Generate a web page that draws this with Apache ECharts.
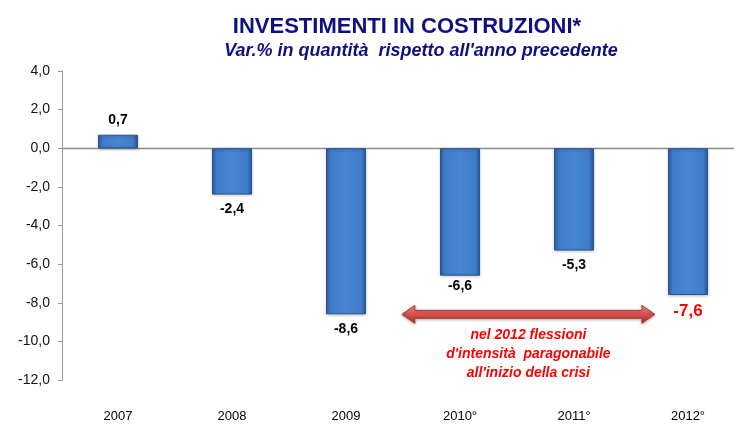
<!DOCTYPE html>
<html>
<head>
<meta charset="utf-8">
<script src="https://cdn.jsdelivr.net/npm/echarts@6/dist/echarts.min.js"></script>
<style>
  html, body { margin: 0; padding: 0; background: #fff; }
  #chart { width: 734px; height: 424px; }
</style>
</head>
<body>
<div id="chart"></div>
<script>
const years = ['2007', '2008', '2009', '2010°', '2011°', '2012°']
const values = [0.7, -2.4, -8.6, -6.6, -5.3, -7.6]
const yTicks = [4, 2, 0, -2, -4, -6, -8, -10, -12]

const titleText = 'INVESTIMENTI IN COSTRUZIONI*'
const subtitleText = "Var.% in quantità  rispetto all'anno precedente"
const noteText = "nel 2012 flessioni\nd'intensità  paragonabile\nall'inizio della crisi"
// arrow spans from between 2009/2010 to between 2011/2012, at the 2009 low
const arrowFrom = 2.49
const arrowTo = 4.71
const arrowLevel = -8.6

const fmt = (v) => v.toFixed(1).replace('.', ',')

const chart = echarts.init(document.getElementById('chart'))

// bar fill: horizontal gradient for the bevelled look
const barFill = new echarts.graphic.LinearGradient(0, 0, 1, 0, [
  { offset: 0, color: '#2d5d9f' },
  { offset: 0.12, color: '#3f7bc9' },
  { offset: 0.5, color: '#4686d3' },
  { offset: 0.88, color: '#3f7bc9' },
  { offset: 1, color: '#2a5896' }
])

const barData = values.map((v, i) => {
  const last = i === values.length - 1
  return {
    value: v,
    label: {
      position: v >= 0 ? 'top' : 'bottom',
      distance: i === 3 ? 3 : 8,
      color: last ? '#ff0000' : '#000',
      fontSize: last ? 17 : 14
    }
  }
})

// plot area runs from first to last bar centre; the y axis sits half a band further left
const axisX = 62
chart.setOption({
  animation: false,
  textStyle: { fontFamily: 'Liberation Sans, Arial, sans-serif' },
  title: [
    {
      text: titleText,
      left: 402,
      top: 11,
      textAlign: 'center',
      textStyle: { color: '#0f0f80', fontSize: 22, fontWeight: 'bold' }
    },
    {
      text: subtitleText,
      left: 416,
      top: 37,
      textAlign: 'center',
      textStyle: { color: '#0f0f80', fontSize: 18, fontWeight: 'bold', fontStyle: 'italic' }
    }
  ],
  grid: { left: 118, top: 71, right: 46, bottom: 44, containLabel: false },
  xAxis: {
    type: 'category',
    data: years,
    boundaryGap: false,
    axisLine: { show: false, onZero: false },
    axisTick: { show: false },
    axisLabel: { color: '#000', fontSize: 13, margin: 30 }
  },
  yAxis: {
    type: 'value',
    min: -12,
    max: 4,
    interval: 2,
    offset: 118 - axisX,
    axisLine: { show: true, lineStyle: { color: '#999' } },
    axisTick: { show: true, length: 4, lineStyle: { color: '#999' } },
    splitLine: { show: false },
    axisLabel: { color: '#111', fontSize: 14, margin: 12, formatter: (v) => fmt(v) }
  },
  series: [
    {
      type: 'bar',
      data: barData,
      barWidth: 40,
      z: 3,
      itemStyle: {
        color: barFill,
        borderColor: '#2a5590',
        borderWidth: 1,
        shadowColor: 'rgba(0,0,0,0.25)',
        shadowBlur: 3,
        shadowOffsetY: 1
      },
      label: {
        show: true,
        fontWeight: 'bold',
        formatter: (p) => fmt(p.value)
      }
    }
  ]
})

// annotation arrow + note + zero line, placed through the axis scales
const cx = (f) => {
  const i = Math.floor(f)
  const a = chart.convertToPixel({ xAxisIndex: 0 }, years[i])
  const b = chart.convertToPixel({ xAxisIndex: 0 }, years[i + 1])
  return a + (b - a) * (f - i)
}
const x1 = cx(arrowFrom)
const x2 = cx(arrowTo)
const ay = chart.convertToPixel({ yAxisIndex: 0 }, arrowLevel)
const zy = Math.round(chart.convertToPixel({ yAxisIndex: 0 }, 0)) + 0.5
const hw = 4, hh = 9, hl = 13

chart.setOption({
  graphic: [
    {
      type: 'line',
      z: 1,
      shape: { x1: axisX, y1: zy, x2: 734, y2: zy },
      style: { stroke: '#8c8c8c', lineWidth: 1.5 }
    },
    {
      type: 'polygon',
      z: 10,
      shape: {
        points: [
          [x1, ay], [x1 + hl, ay - hh], [x1 + hl, ay - hw], [x2 - hl, ay - hw],
          [x2 - hl, ay - hh], [x2, ay], [x2 - hl, ay + hh], [x2 - hl, ay + hw],
          [x1 + hl, ay + hw], [x1 + hl, ay + hh]
        ]
      },
      style: {
        fill: new echarts.graphic.LinearGradient(0, 0, 0, 1, [
          { offset: 0, color: '#f2a3a0' },
          { offset: 0.45, color: '#d9534f' },
          { offset: 1, color: '#a8322f' }
        ]),
        stroke: '#b03a36',
        lineWidth: 1,
        shadowColor: 'rgba(0,0,0,0.3)',
        shadowBlur: 3,
        shadowOffsetY: 1
      }
    },
    {
      type: 'text',
      z: 10,
      x: (x1 + x2) / 2,
      y: ay + 11,
      style: {
        text: noteText,
        fill: '#ff0000',
        font: 'italic bold 14px "Liberation Sans", Arial, sans-serif',
        align: 'center',
        verticalAlign: 'top',
        lineHeight: 19
      }
    }
  ]
})
</script>
</body>
</html>
